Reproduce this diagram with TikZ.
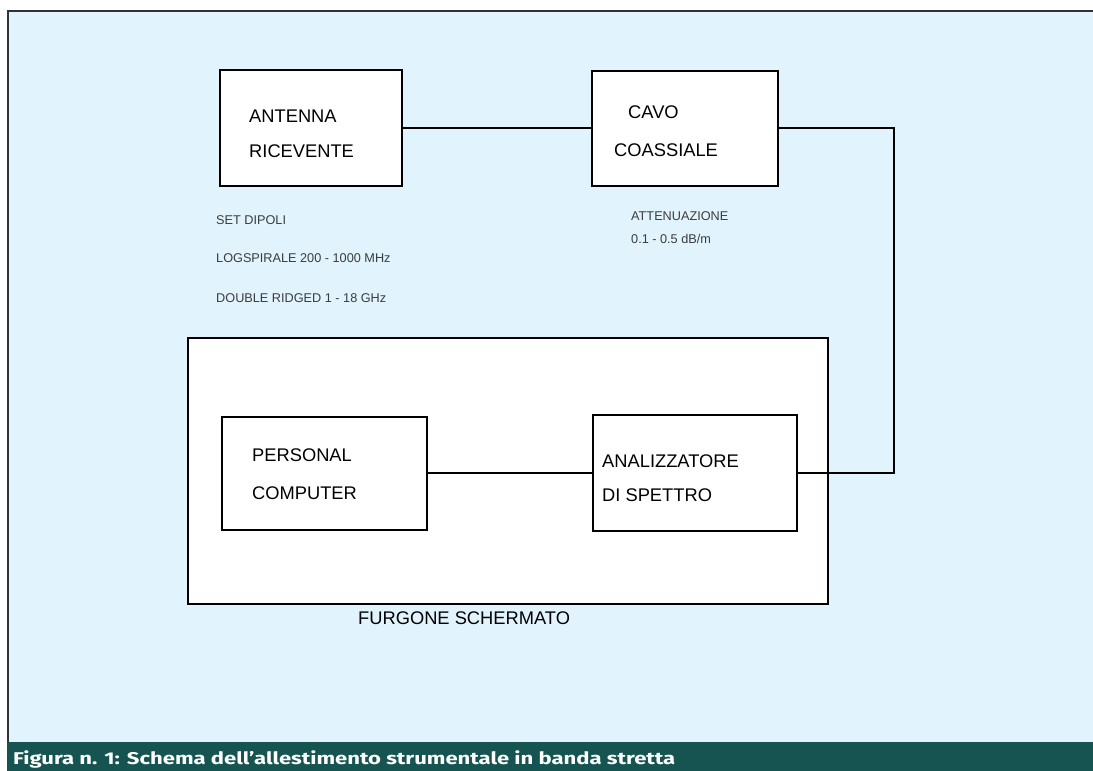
\documentclass[tikz,border=0pt]{standalone}
\usepackage{fontspec}
\usepackage{graphicx}
\setmainfont{Liberation Sans}
\newfontfamily\capfont{Fira Sans}
\definecolor{panel}{HTML}{E1F3FD}
\definecolor{capbar}{HTML}{165452}
\definecolor{frameline}{HTML}{333333}
\definecolor{notegray}{HTML}{3C3C3C}
\begin{document}
\begin{tikzpicture}[x=1pt,y=-1pt,
  blockbox/.style={draw=black, line width=2pt, fill=white, inner sep=0pt},
  wire/.style={draw=black, line width=1.6pt},
  boxlabel/.style={anchor=base west, inner sep=0pt, font=\fontsize{18.3}{20}\selectfont, text=black},
  note/.style={anchor=base west, inner sep=0pt, font=\fontsize{12.7}{14}\selectfont, text=notegray}]
  % page and panel
  \useasboundingbox (0,0) rectangle (1093,771);
  \fill[white] (0,0) rectangle (1093,771);
  \fill[panel] (8,11) rectangle (1093,742);
  \draw[frameline, line width=1.5pt] (8,742) -- (8,11) -- (1093,11);
  % caption bar
  \fill[capbar] (7,742) rectangle (1093,771);
  \node[anchor=base west, inner sep=0pt, text=white, font=\capfont\bfseries\fontsize{17}{19}\selectfont] (caption) at (13,764)
    {\resizebox{662pt}{\height}{Figura n. 1: Schema dell’allestimento strumentale in banda stretta}};

  % shielded van
  \node[blockbox, minimum width=640pt, minimum height=266pt] (van) at (508,471) {};
  \node[boxlabel] (vanlabel) at (358,624) {FURGONE SCHERMATO};

  % blocks
  \node[blockbox, minimum width=182pt, minimum height=116pt] (ant) at (311,128) {};
  \node[blockbox, minimum width=186pt, minimum height=115pt] (cavo) at (685,128) {};
  \node[blockbox, minimum width=205pt, minimum height=113pt] (pc) at (324.5,473) {};
  \node[blockbox, minimum width=204pt, minimum height=116pt] (ana) at (695,473) {};

  % block labels
  \node[boxlabel] (ant1) at (249,122) {ANTENNA};
  \node[boxlabel] (ant2) at (249,157) {RICEVENTE};
  \node[boxlabel] (cavo1) at (628,118) {CAVO};
  \node[boxlabel] (cavo2) at (614,156) {COASSIALE};
  \node[boxlabel] (pc1) at (252,461) {PERSONAL};
  \node[boxlabel] (pc2) at (252,499) {COMPUTER};
  \node[boxlabel] (ana1) at (602,467) {ANALIZZATORE};
  \node[boxlabel] (ana2) at (602,501) {DI SPETTRO};

  % notes
  \node[note] (n1) at (216,224) {SET DIPOLI};
  \node[note] (n2) at (216,262) {LOGSPIRALE 200 - 1000 MHz};
  \node[note] (n3) at (216,302) {DOUBLE RIDGED 1 - 18 GHz};
  \node[note] (n4) at (631,220) {ATTENUAZIONE};
  \node[note] (n5) at (631,243) {0.1 - 0.5 dB/m};

  % connections
  \coordinate (bend) at (894,0);
  \draw[wire] (ant.east) -- (cavo.west);
  \draw[wire] (cavo.east) -- (cavo.east -| bend) -- (bend |- ana.east) -- (ana.east);
  \draw[wire] (pc.east) -- (ana.west);
\end{tikzpicture}
\end{document}
